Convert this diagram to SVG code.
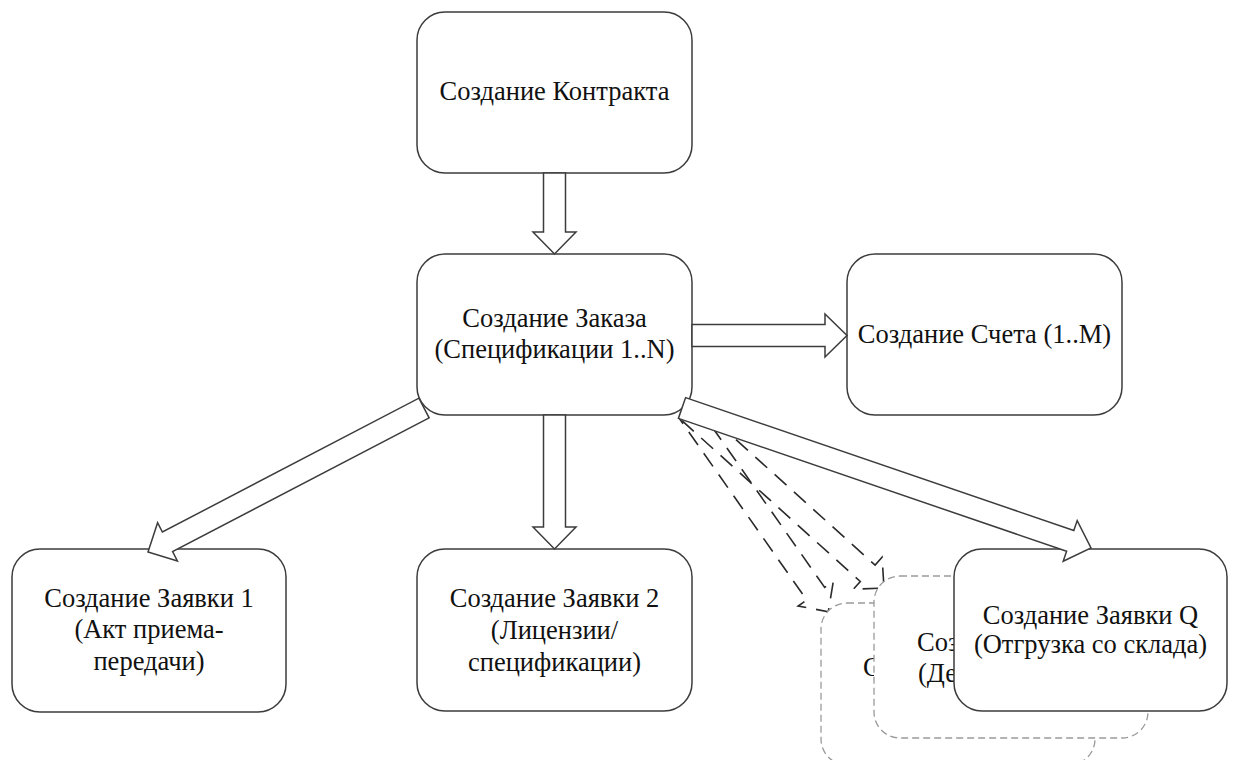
<svg xmlns="http://www.w3.org/2000/svg" width="1233" height="760" viewBox="0 0 1233 760">
<defs>
<style>
.box{fill:#fff;stroke:#3c3c3c;stroke-width:1.5}
.dbox{fill:#fff;stroke:#9a9a9a;stroke-width:1.3;stroke-dasharray:7 4}
.arr{fill:#fff;stroke:#3c3c3c;stroke-width:1.5;stroke-linejoin:miter}
.darr{fill:none;stroke:#2a2a2a;stroke-width:1.6;stroke-dasharray:16 10}
.t{font-family:"Liberation Serif","Times New Roman",serif;font-size:26.5px;fill:#111;text-anchor:middle}
.ts{font-family:"Liberation Serif","Times New Roman",serif;font-size:26.5px;fill:#111;text-anchor:start}
</style>
</defs>
<rect width="1233" height="760" fill="#fff"/>

<g id="connectors-dashed">
<polygon class="darr" points="697.0,405.4 824.7,587.4 833.3,581.4 828.3,611.7 798.1,606.0 806.7,600.0 679.0,418.0"/>
<polygon class="darr" points="697.4,404.8 875.1,565.1 882.1,557.3 884,588 853.3,589.3 860.3,581.5 682.6,421.2"/>
</g>

<g id="node-contract">
<rect class="box" x="417" y="12" width="275" height="161" rx="28"/>
<text class="t" x="554.5" y="100">Создание Контракта</text>
</g>

<g id="node-order">
<rect class="box" x="417" y="254" width="275" height="161" rx="28"/>
<text class="t" x="554.5" y="327">Создание Заказа</text>
<text class="t" x="554.5" y="358">(Спецификации 1..N)</text>
</g>

<g id="node-invoice">
<rect class="box" x="847" y="254" width="275" height="161" rx="28"/>
<text class="t" x="984.5" y="343">Создание Счета (1..M)</text>
</g>

<g id="node-req1">
<rect class="box" x="12" y="549" width="274" height="163" rx="28"/>
<text class="t" x="149" y="607">Создание Заявки 1</text>
<text class="t" x="149" y="638">(Акт приема-</text>
<text class="t" x="149" y="670">передачи)</text>
</g>

<g id="node-req2">
<rect class="box" x="417" y="549" width="275" height="162" rx="28"/>
<text class="t" x="554.5" y="607">Создание Заявки 2</text>
<text class="t" x="554.5" y="639">(Лицензии/</text>
<text class="t" x="554.5" y="671">спецификации)</text>
</g>

<g id="node-req-back">
<rect class="dbox" x="821" y="603" width="274" height="162" rx="26"/>
<text class="ts" x="863" y="676">С</text>
</g>

<g id="node-req-mid">
<rect class="dbox" x="874" y="576" width="274" height="162" rx="26"/>
<text class="ts" x="917" y="651">Соз</text>
<text class="ts" x="918" y="682">(Де</text>
</g>

<g id="node-reqQ">
<rect class="box" x="954" y="549" width="273" height="162" rx="28"/>
<text class="t" x="1090.5" y="624">Создание Заявки Q</text>
<text class="t" x="1090.5" y="653">(Отгрузка со склада)</text>
</g>

<g id="connectors">
<polygon class="arr" points="543.5,173 543.5,232 533,232 554.5,254 576,232 565.5,232 565.5,173"/>
<polygon class="arr" points="692,324.5 825,324.5 825,314 847,335.5 825,357 825,346.5 692,346.5"/>
<polygon class="arr" points="543.5,415 543.5,527 533,527 554.5,549 576,527 565.5,527 565.5,415"/>
<polygon class="arr" points="429.1,417.8 172.6,551.6 177.4,560.9 148,552 157.6,522.7 162.4,532.0 418.9,398.2"/>
<polygon class="arr" points="685.6,397.6 1073.8,530.5 1077.2,520.6 1091,548 1063.2,561.2 1066.6,551.3 678.4,418.4"/>
</g>
</svg>
